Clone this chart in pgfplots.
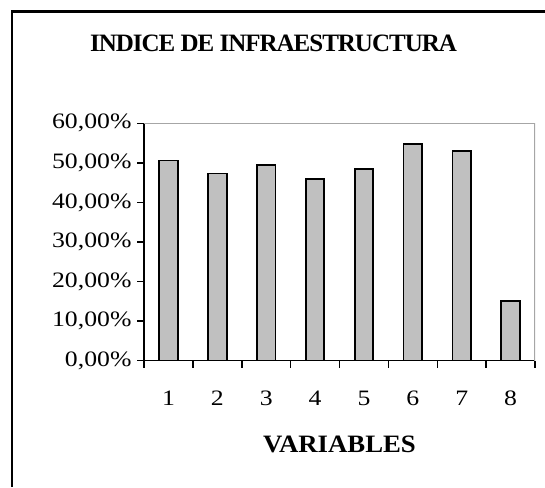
\documentclass[border=0pt]{standalone}
\usepackage{pgfplots}
\pgfplotsset{compat=1.18}
\usepackage{fontspec}
\setmainfont{Liberation Serif}
\begin{document}
\begin{tikzpicture}[x=1pt,y=1pt]
\useasboundingbox (0pt,0pt) rectangle (545pt,487pt);
\draw[line width=2.5pt] (12pt,0pt) -- (12pt,475.5pt) -- (546pt,475.5pt);
\node[font=\fontsize{25}{28}\selectfont\bfseries\addfontfeature{LetterSpace=-4}] at (273.5pt,444pt) {INDICE DE INFRAESTRUCTURA};
\node[font=\fontsize{25}{28}\selectfont\bfseries\addfontfeature{FakeStretch=1.07}] at (339.5pt,43pt) {VARIABLES};
\begin{axis}[
  at={(144pt,126.3pt)}, anchor=south west,
  width=391pt, height=237.4pt, scale only axis,
  xmin=0.5, xmax=8.5, ymin=0, ymax=60,
  axis x line*=bottom, axis y line*=left,
  axis line style={line width=1.5pt, black},
  xtick={1,...,8}, major x tick style={draw=none},
  minor xtick={0.5,1.5,...,8.5},
  ytick={0,10,...,60},
  tick align=outside,
  tick style={line width=1.5pt, black},
  major tick length=7pt, minor tick length=7pt,
  /pgf/number format/assume math mode=true,
  tick label style={font=\fontsize{22}{25}\selectfont\addfontfeature{FakeStretch=1.17}},
  yticklabel={\pgfmathprintnumber[fixed,fixed zerofill,precision=2,use comma]{\tick}\%},
  xticklabel style={yshift=-20pt},
  yticklabel style={xshift=-2pt},
]
\draw[gray!70, line width=1.2pt] (rel axis cs:0,1) -- (rel axis cs:1,1) -- (rel axis cs:1,0);
\addplot[ybar, bar width=0.38, fill={rgb,255:red,192;green,192;blue,192}, draw=black, line width=1.8pt]
  coordinates {(1,50.6) (2,47.3) (3,49.5) (4,46.0) (5,48.4) (6,54.8) (7,53.0) (8,15.1)};
\end{axis}
\end{tikzpicture}
\end{document}
